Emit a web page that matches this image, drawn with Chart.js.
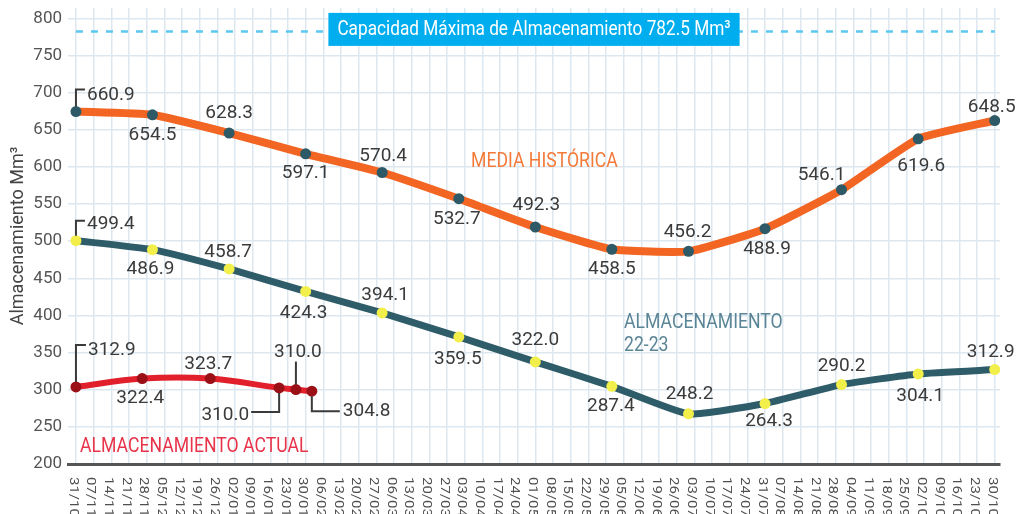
<!DOCTYPE html>
<html>
<head>
<meta charset="utf-8">
<script src="https://cdn.jsdelivr.net/npm/chart.js@4.4.0/dist/chart.umd.min.js"></script>
<style>
  html, body { margin: 0; padding: 0; background: #fff; }
</style>
</head>
<body>
<canvas id="embalse" width="1017" height="514"></canvas>
<script>
// Semanas del eje x (31/10 a 30/10)
const semanas = ['31/10', '07/11', '14/11', '21/11', '28/11', '05/12', '12/12', '19/12', '26/12',
    '02/01', '09/01', '16/01', '23/01', '30/01', '06/02', '13/02', '20/02', '27/02', '06/03', '13/03',
    '20/03', '27/03', '03/04', '10/04', '17/04', '24/04', '01/05', '08/05', '15/05', '22/05', '29/05',
    '05/06', '12/06', '19/06', '26/06', '03/07', '10/07', '17/07', '24/07', '31/07', '07/08', '14/08',
    '21/08', '28/08', '04/09', '11/09', '18/09', '25/09', '02/10', '09/10', '16/10', '23/10', '30/10'];
const yTicks = [200, 250, 300, 350, 400, 450, 500, 550, 600, 650, 700, 750, 800];

// Posición (en semanas) de los puntos mensuales
const xMensual = [0, 4.33, 8.67, 13, 17.33, 21.67, 26, 30.33, 34.67, 39, 43.33, 47.67, 52];

// Media histórica
const mediaHistorica = [674.6, 670.2, 645.6, 617.7, 592.5, 557.2, 519.1, 489.1, 486.3, 516.8, 569.3, 637.9, 662.5];
const etiquetasMedia = ['660.9', '654.5', '628.3', '597.1', '570.4', '532.7', '492.3', '458.5', '456.2', '488.9', '546.1', '619.6', '648.5'];

// Almacenamiento 22-23
const almacenamiento2223 = [500.7, 488.6, 462.6, 432.4, 403.4, 371.1, 337.5, 304.6, 267.5, 281.4, 306.9, 321.3, 327.1];
const etiquetas2223 = ['499.4', '486.9', '458.7', '424.3', '394.1', '359.5', '322.0', '287.4', '248.2', '264.3', '290.2', '304.1', '312.9'];

// Almacenamiento actual
const xActual = [0, 3.75, 7.6, 11.5, 12.45, 13.35];
const almacenamientoActual = [303.8, 315.0, 315.0, 302.5, 300.2, 298.0];
const etiquetasActual = ['312.9', '322.4', '323.7', '310.0', '310.0', '304.8'];

const capacidadMaxima = 782.5;
const xCapacidad = [0, 52];

// Ubicación de las etiquetas respecto al punto (px)
const posMedia = [
    { dx: 11, dy: -16, align: 'left', line: [[0, -5], [0, -22], [9, -22]] },
    { dx: 0, dy: 20 }, { dx: 0, dy: -20 }, { dx: 0, dy: 19 }, { dx: 1, dy: -16 },
    { dx: -2, dy: 21 }, { dx: 1, dy: -22 }, { dx: 0, dy: 20 }, { dx: -1, dy: -19 },
    { dx: 2, dy: 21 }, { dx: -20, dy: -14 }, { dx: 3, dy: 27 }, { dx: -3, dy: -13 }
];
const pos2223 = [
    { dx: 11, dy: -16, align: 'left', line: [[0, -5], [0, -20], [9, -20]] },
    { dx: -2, dy: 20 }, { dx: -1, dy: -17 }, { dx: -2, dy: 22 }, { dx: 3, dy: -18 },
    { dx: -1, dy: 22 }, { dx: 0, dy: -22 }, { dx: -1, dy: 20 }, { dx: 1, dy: -20 },
    { dx: 4, dy: 18 }, { dx: 0, dy: -18 }, { dx: 2, dy: 22 }, { dx: -4, dy: -17 }
];
const posActual = [
    { dx: 12, dy: -37, align: 'left', line: [[0, -5], [0, -42], [10, -42]] },
    { dx: -2, dy: 20 },
    { dx: -2, dy: -14 },
    { dx: -30, dy: 27, align: 'right', line: [[0, 5], [0, 24], [-28, 24]] },
    { dx: 2, dy: -37, line: [[0, -5], [0, -28]] },
    { dx: 31, dy: 20, align: 'left', line: [[0, 5], [0, 20], [28, 20]] }
];

const FUENTE = 'Roboto, "Liberation Sans", sans-serif';

function texto(ctx, str, x, y, font, color, align, sx) {
    ctx.save();
    ctx.font = font;
    ctx.fillStyle = color;
    ctx.textAlign = align || 'center';
    ctx.textBaseline = 'middle';
    ctx.translate(x, y);
    ctx.scale(sx || 1, 1);
    ctx.fillText(str, 0, 0);
    ctx.restore();
}

const puntos = (xs, ys) => xs.map((x, i) => ({ x: x, y: ys[i] }));

// Etiquetas, caja de capacidad y fechas giradas
const etiquetasPlugin = {
    id: 'etiquetas',
    afterDatasetsDraw(chart) {
        const ctx = chart.ctx;
        const area = chart.chartArea;
        const grupos = [
            { ds: 2, labels: etiquetasMedia, pos: posMedia },
            { ds: 1, labels: etiquetas2223, pos: pos2223 },
            { ds: 0, labels: etiquetasActual, pos: posActual }
        ];
        grupos.forEach(g => {
            chart.getDatasetMeta(g.ds).data.forEach((pt, i) => {
                const p = g.pos[i];
                if (p.line) {
                    ctx.save();
                    ctx.strokeStyle = '#3a3a3a';
                    ctx.lineWidth = 2;
                    ctx.beginPath();
                    p.line.forEach(([dx, dy], j) => {
                        if (j === 0) ctx.moveTo(pt.x + dx, pt.y + dy);
                        else ctx.lineTo(pt.x + dx, pt.y + dy);
                    });
                    ctx.stroke();
                    ctx.restore();
                }
                texto(ctx, g.labels[i], pt.x + p.dx, pt.y + p.dy, '19px ' + FUENTE, '#3b3b3b', p.align, 1);
            });
        });

        // nombres de las series
        const f = '21px ' + FUENTE;
        texto(ctx, 'MEDIA HISTÓRICA', 471, 162, f, '#f47a3a', 'left', 0.84);
        texto(ctx, 'ALMACENAMIENTO', 624, 323, f, '#5a8596', 'left', 0.84);
        texto(ctx, '22-23', 624, 346, f, '#5a8596', 'left', 0.84);
        texto(ctx, 'ALMACENAMIENTO ACTUAL', 80, 447, f, '#e8334a', 'left', 0.84);

        // caja de capacidad máxima
        const cap = 'Capacidad Máxima de Almacenamiento 782.5 Mm³';
        ctx.save();
        ctx.font = f;
        const w = ctx.measureText(cap).width * 0.82 + 18;
        ctx.restore();
        const cx = (area.left + area.right) / 2;
        const cy = chart.scales.y.getPixelForValue(capacidadMaxima) - 2;
        ctx.fillStyle = '#00aeef';
        ctx.fillRect(cx - w / 2, cy - 16.5, w, 33);
        texto(ctx, cap, cx, cy, f, '#ffffff', 'center', 0.82);
    },
    afterDraw(chart) {
        const ctx = chart.ctx;
        const xs = chart.scales.x;
        semanas.forEach((s, i) => {
            ctx.save();
            ctx.font = '15px ' + FUENTE;
            ctx.fillStyle = '#505050';
            ctx.textAlign = 'left';
            ctx.textBaseline = 'middle';
            ctx.translate(xs.getPixelForValue(i) - 3, chart.chartArea.bottom + 13);
            ctx.rotate(Math.PI / 2);
            ctx.scale(1, 0.85);
            ctx.fillText(s, 0, 0);
            ctx.restore();
        });
    }
};

const ctx = document.getElementById('embalse').getContext('2d');
new Chart(ctx, {
    type: 'line',
    data: {
        datasets: [
            {
                label: 'Almacenamiento actual',
                data: puntos(xActual, almacenamientoActual),
                borderColor: '#e1202b',
                borderWidth: 6,
                pointRadius: 5.5,
                pointBackgroundColor: '#9b0f16',
                pointBorderWidth: 0,
                tension: 0.35
            },
            {
                label: 'Almacenamiento 22-23',
                data: puntos(xMensual, almacenamiento2223),
                borderColor: '#2f5c69',
                borderWidth: 7,
                pointRadius: 5.5,
                pointBackgroundColor: '#f3ef4a',
                pointBorderWidth: 0,
                tension: 0.15
            },
            {
                label: 'Media histórica',
                data: puntos(xMensual, mediaHistorica),
                borderColor: '#f26522',
                borderWidth: 8,
                pointRadius: 5.5,
                pointBackgroundColor: '#2d5a66',
                pointBorderWidth: 0,
                tension: 0.15
            },
            {
                label: 'Capacidad máxima',
                data: puntos(xCapacidad, xCapacidad.map(() => capacidadMaxima)),
                borderColor: '#5cc8f0',
                borderWidth: 2.5,
                borderDash: [7, 8],
                pointRadius: 0
            }
        ]
    },
    options: {
        responsive: false,
        animation: false,
        layout: { padding: { top: 8, right: 17, left: 0, bottom: 0 } },
        plugins: {
            legend: { display: false },
            tooltip: { enabled: false }
        },
        scales: {
            x: {
                type: 'linear',
                min: -0.45,
                max: 52.3,
                afterBuildTicks: (scale) => {
                    scale.ticks = semanas.map((_, i) => ({ value: i }));
                },
                afterFit: (scale) => {
                    scale.height = 50;
                    scale.paddingLeft = 0;
                    scale.paddingRight = 0;
                },
                ticks: { display: false },
                grid: { color: '#dde7ef', lineWidth: 1.5, drawTicks: false },
                border: { color: '#555555', width: 3 }
            },
            y: {
                min: 200,
                max: 814,
                afterBuildTicks: (scale) => {
                    scale.ticks = yTicks.map(v => ({ value: v }));
                },
                afterFit: (scale) => {
                    scale.width = 68;
                    scale.paddingTop = 0;
                    scale.paddingBottom = 0;
                },
                ticks: {
                    padding: 6,
                    color: '#555555',
                    font: { family: FUENTE, size: 17 }
                },
                grid: { color: '#dde7ef', lineWidth: 1.5, drawTicks: false },
                border: { display: false },
                title: {
                    display: true,
                    text: 'Almacenamiento Mm³',
                    color: '#444444',
                    font: { family: FUENTE, size: 18 },
                    padding: { top: 8, bottom: 0 }
                }
            }
        }
    },
    plugins: [etiquetasPlugin]
});
</script>
</body>
</html>
